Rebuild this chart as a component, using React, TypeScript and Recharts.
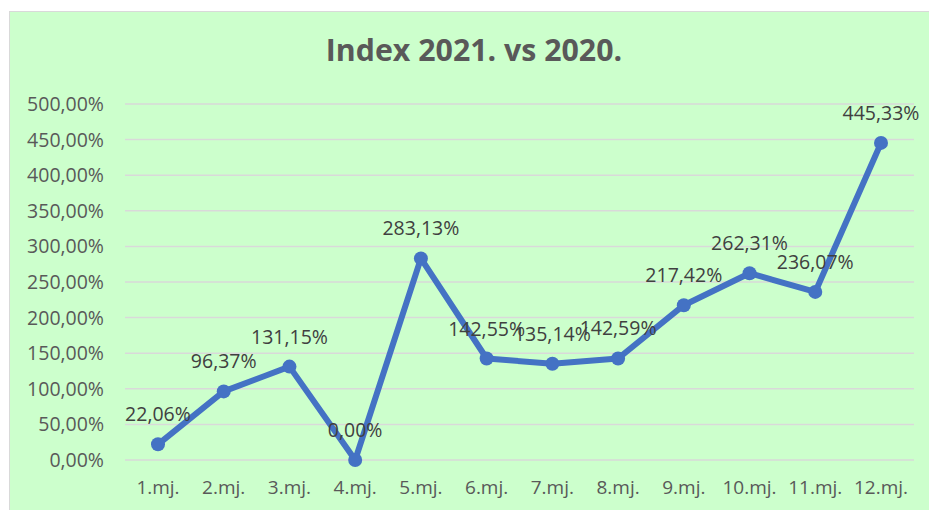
import React from 'react';
import { LineChart, Line, XAxis, YAxis, CartesianGrid, LabelList } from 'recharts';

const categories = ['1.mj.', '2.mj.', '3.mj.', '4.mj.', '5.mj.', '6.mj.', '7.mj.', '8.mj.', '9.mj.', '10.mj.', '11.mj.', '12.mj.'];
const indexValues = [22.06, 96.37, 131.15, 0.0, 283.13, 142.55, 135.14, 142.59, 217.42, 262.31, 236.07, 445.33];
const yTicks = [0, 50, 100, 150, 200, 250, 300, 350, 400, 450, 500];
const title = 'Index 2021. vs 2020.';

const data = categories.map((c, i) => ({ name: c, value: indexValues[i] }));

const fmt = (v: number) => v.toFixed(2).replace('.', ',') + '%';

const FONT = '"Open Sans", sans-serif';

const renderLabel = (props: any) => {
  const { x, y, value } = props;
  return (
    <text x={x} y={y - 23} textAnchor="middle" fill="#404040" fontSize={19.5} fontFamily={FONT}>
      {fmt(Number(value))}
    </text>
  );
};

export default function App() {
  return (
    <div
      style={{
        position: 'fixed',
        left: 9,
        top: 11,
        width: 925,
        height: 505,
        background: '#CCFFCC',
        borderLeft: '1px solid #D9D9D9',
        borderTop: '1px solid #D9D9D9',
        fontFamily: FONT,
      }}
    >
      <div
        style={{
          position: 'absolute',
          left: 0,
          top: 23,
          width: 928,
          textAlign: 'center',
          fontSize: 30.3,
          lineHeight: '30px',
          fontWeight: 700,
          color: '#595959',
          fontFamily: FONT,
        }}
      >
        {title}
      </div>
      <LineChart width={920} height={499} data={data} margin={{ top: 92, right: 16, bottom: 11, left: 10 }}>
        <CartesianGrid vertical={false} stroke="#D9D9D9" strokeWidth={1.5} />
        <XAxis
          dataKey="name"
          axisLine={false}
          tickLine={false}
          tickSize={0}
          tickMargin={21}
          height={40}
          interval={0}
          padding={{ left: 33, right: 33 }}
          tick={{ fill: '#595959', fontSize: 19, fontFamily: FONT }}
        />
        <YAxis
          domain={[0, 500]}
          ticks={yTicks}
          axisLine={false}
          tickLine={false}
          tickSize={0}
          tickMargin={21}
          width={105}
          tickFormatter={fmt}
          tick={{ fill: '#595959', fontSize: 19.5, fontFamily: FONT }}
        />
        <Line
          type="linear"
          dataKey="value"
          stroke="#4472C4"
          strokeWidth={6}
          strokeLinejoin="round"
          dot={{ r: 7, fill: '#4472C4', stroke: 'none' }}
          activeDot={false}
          isAnimationActive={false}
        >
          <LabelList dataKey="value" content={renderLabel} />
        </Line>
      </LineChart>
    </div>
  );
}
